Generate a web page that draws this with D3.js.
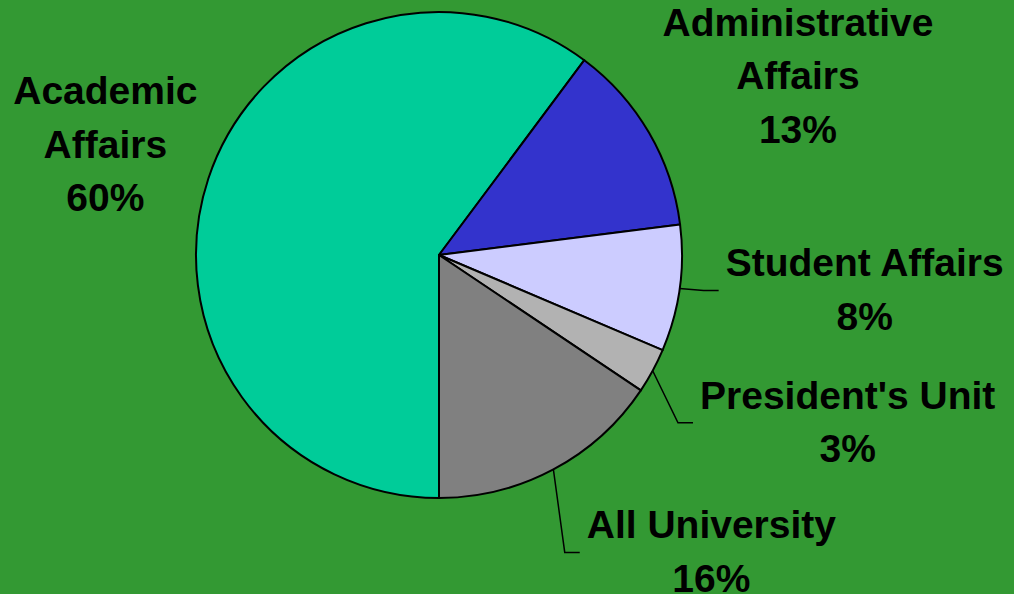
<!DOCTYPE html>
<html>
<head>
<meta charset="utf-8">
<script src="https://cdn.jsdelivr.net/npm/d3@7"></script>
<style>
  body { margin: 0; background: #339933; }
  svg { display: block; }
  .lbl { font-family: "Liberation Sans", Arial, sans-serif; font-weight: bold; font-size: 39px; fill: #000; }
</style>
</head>
<body>
<div id="chart"></div>
<script>
// data
var units = ["Academic Affairs", "Administrative Affairs", "Student Affairs", "President's Unit", "All University"];
var shares = [60.2, 12.8, 8.4, 3.0, 15.6];
var colors = ["#00CC99", "#3333CC", "#CCCCFF", "#B2B2B2", "#808080"];

// label lines (how the name is broken up)
var nameLines = [["Academic", "Affairs"], ["Administrative", "Affairs"], ["Student Affairs"], ["President's Unit"], ["All University"]];

var width = 1014, height = 594;
var cx = 439, cy = 255, radius = 243;
var lineGap = 53.5;

// label placement: offset of label centre / first baseline from the slice's outer mid-point
var labelOffset = [[-103, -74], [149, -97], [185, -12], [195, 38], [158, 69]];
var hasLeader = [false, false, true, true, true];

var svg = d3.select("#chart")
  .append("svg")
    .attr("width", width)
    .attr("height", height);

svg.append("rect")
    .attr("width", width)
    .attr("height", height)
    .attr("fill", "#339933");

var g = svg.append("g")
    .attr("transform", "translate(" + cx + "," + cy + ")");

var pie = d3.pie()
    .sort(null)
    .value(function(d) { return d; })
    .startAngle(Math.PI)
    .endAngle(3 * Math.PI);

var arcs = pie(shares);

var arc = d3.arc()
    .innerRadius(0)
    .outerRadius(radius);

var edge = d3.arc()
    .innerRadius(radius)
    .outerRadius(radius);

g.selectAll("path.slice")
  .data(arcs)
  .enter()
  .append("path")
    .attr("class", "slice")
    .attr("d", arc)
    .attr("fill", function(d, i) { return colors[i]; })
    .attr("stroke", "#000")
    .attr("stroke-width", 2)
    .attr("stroke-linejoin", "round");

// labels
arcs.forEach(function(d, i) {
  var p = edge.centroid(d);
  var x = p[0] + labelOffset[i][0];
  var y = p[1] + labelOffset[i][1];
  var lines = nameLines[i].concat([Math.round(shares[i]) + "%"]);

  var t = g.append("text")
      .attr("class", "lbl")
      .attr("text-anchor", "middle");
  lines.forEach(function(s, k) {
    t.append("tspan")
        .attr("x", x)
        .attr("y", y + k * lineGap)
        .text(s);
  });

  if (hasLeader[i]) {
    var first = t.select("tspan").node().getBBox();
    var end = [first.x - 7, y + 14];
    var elbow = [end[0] - 15, end[1]];
    g.append("path")
        .attr("d", d3.line()([p, elbow, end]))
        .attr("fill", "none")
        .attr("stroke", "#000")
        .attr("stroke-width", 1.5);
  }
});
</script>
</body>
</html>
